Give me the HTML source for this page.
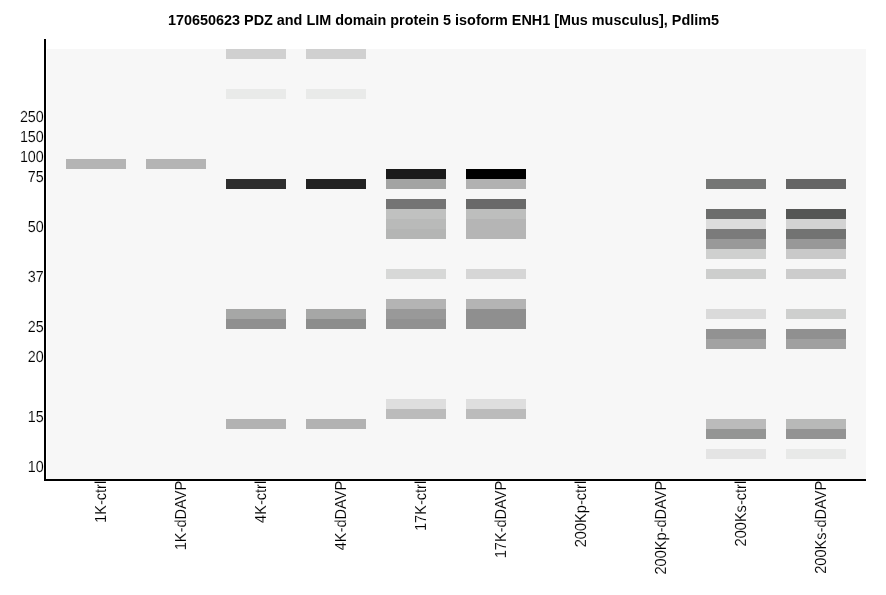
<!DOCTYPE html>
<html><head><meta charset="utf-8"><title>170650623 PDZ and LIM domain protein 5</title>
<style>
html,body{margin:0;padding:0;background:#fff;}
body{width:886px;height:595px;overflow:hidden;}
svg{display:block;}
text{font-family:"Liberation Sans",Arial,sans-serif;fill:#000;}
.t{font-weight:bold;font-size:14.4px;}
.l{font-size:16px;stroke:#fff;stroke-width:0.12px;}
</style></head><body>
<svg width="886" height="595" viewBox="0 0 886 595">
<rect x="0" y="0" width="886" height="595" fill="#ffffff"/>
<rect x="47" y="49" width="819" height="430" fill="#f7f7f7" shape-rendering="crispEdges"/>
<g shape-rendering="crispEdges">
<rect x="66" y="159" width="60" height="10" fill="#b4b4b4"/>
<rect x="146" y="159" width="60" height="10" fill="#b4b4b4"/>
<rect x="226" y="49" width="60" height="10" fill="#d0d0d0"/>
<rect x="226" y="89" width="60" height="10" fill="#e9eae9"/>
<rect x="226" y="179" width="60" height="10" fill="#2e2e2e"/>
<rect x="226" y="309" width="60" height="10" fill="#a6a7a6"/>
<rect x="226" y="319" width="60" height="10" fill="#8f8f8f"/>
<rect x="226" y="419" width="60" height="10" fill="#b2b2b2"/>
<rect x="306" y="49" width="60" height="10" fill="#d0d0d0"/>
<rect x="306" y="89" width="60" height="10" fill="#e9eae9"/>
<rect x="306" y="179" width="60" height="10" fill="#222222"/>
<rect x="306" y="309" width="60" height="10" fill="#a6a7a6"/>
<rect x="306" y="319" width="60" height="10" fill="#8c8d8c"/>
<rect x="306" y="419" width="60" height="10" fill="#b2b2b2"/>
<rect x="386" y="169" width="60" height="10" fill="#1a1a1a"/>
<rect x="386" y="179" width="60" height="10" fill="#a3a4a3"/>
<rect x="386" y="199" width="60" height="10" fill="#747474"/>
<rect x="386" y="209" width="60" height="10" fill="#c0c1c0"/>
<rect x="386" y="219" width="60" height="10" fill="#b9bab9"/>
<rect x="386" y="229" width="60" height="10" fill="#b4b5b4"/>
<rect x="386" y="269" width="60" height="10" fill="#d7d8d7"/>
<rect x="386" y="299" width="60" height="10" fill="#b4b4b4"/>
<rect x="386" y="309" width="60" height="10" fill="#999999"/>
<rect x="386" y="319" width="60" height="10" fill="#919191"/>
<rect x="386" y="399" width="60" height="10" fill="#dedede"/>
<rect x="386" y="409" width="60" height="10" fill="#bbbbbb"/>
<rect x="466" y="169" width="60" height="10" fill="#000000"/>
<rect x="466" y="179" width="60" height="10" fill="#b1b1b1"/>
<rect x="466" y="199" width="60" height="10" fill="#696969"/>
<rect x="466" y="209" width="60" height="10" fill="#bdbebd"/>
<rect x="466" y="219" width="60" height="10" fill="#b5b5b5"/>
<rect x="466" y="229" width="60" height="10" fill="#b5b5b5"/>
<rect x="466" y="269" width="60" height="10" fill="#d6d6d6"/>
<rect x="466" y="299" width="60" height="10" fill="#b4b4b4"/>
<rect x="466" y="309" width="60" height="10" fill="#8f8f8f"/>
<rect x="466" y="319" width="60" height="10" fill="#8f8f8f"/>
<rect x="466" y="399" width="60" height="10" fill="#dedede"/>
<rect x="466" y="409" width="60" height="10" fill="#bbbbbb"/>
<rect x="706" y="179" width="60" height="10" fill="#757675"/>
<rect x="706" y="209" width="60" height="10" fill="#6c6d6c"/>
<rect x="706" y="219" width="60" height="10" fill="#dcdcdc"/>
<rect x="706" y="229" width="60" height="10" fill="#7b7b7b"/>
<rect x="706" y="239" width="60" height="10" fill="#999999"/>
<rect x="706" y="249" width="60" height="10" fill="#cfd0cf"/>
<rect x="706" y="269" width="60" height="10" fill="#cdcecd"/>
<rect x="706" y="309" width="60" height="10" fill="#dadada"/>
<rect x="706" y="329" width="60" height="10" fill="#929292"/>
<rect x="706" y="339" width="60" height="10" fill="#a2a2a2"/>
<rect x="706" y="419" width="60" height="10" fill="#bbbbbb"/>
<rect x="706" y="429" width="60" height="10" fill="#949594"/>
<rect x="706" y="449" width="60" height="10" fill="#e4e4e4"/>
<rect x="786" y="179" width="60" height="10" fill="#656565"/>
<rect x="786" y="209" width="60" height="10" fill="#555655"/>
<rect x="786" y="219" width="60" height="10" fill="#d3d3d3"/>
<rect x="786" y="229" width="60" height="10" fill="#727372"/>
<rect x="786" y="239" width="60" height="10" fill="#989898"/>
<rect x="786" y="249" width="60" height="10" fill="#c9c9c9"/>
<rect x="786" y="269" width="60" height="10" fill="#cccccc"/>
<rect x="786" y="309" width="60" height="10" fill="#cecfce"/>
<rect x="786" y="329" width="60" height="10" fill="#909090"/>
<rect x="786" y="339" width="60" height="10" fill="#a0a0a0"/>
<rect x="786" y="419" width="60" height="10" fill="#b8b9b8"/>
<rect x="786" y="429" width="60" height="10" fill="#939393"/>
<rect x="786" y="449" width="60" height="10" fill="#e8e9e8"/>
</g>
<g shape-rendering="crispEdges"><rect x="44" y="39" width="2" height="442" fill="#000"/><rect x="44" y="479" width="822" height="2" fill="#000"/></g>
<text class="t" x="443.5" y="25.1" text-anchor="middle">170650623 PDZ and LIM domain protein 5 isoform ENH1 [Mus musculus], Pdlim5</text>
<text class="l" transform="translate(43.8,122) rotate(0.03) scale(0.895,1)" text-anchor="end">250</text>
<text class="l" transform="translate(43.8,142) rotate(0.03) scale(0.895,1)" text-anchor="end">150</text>
<text class="l" transform="translate(43.8,162) rotate(0.03) scale(0.895,1)" text-anchor="end">100</text>
<text class="l" transform="translate(43.8,182) rotate(0.03) scale(0.895,1)" text-anchor="end">75</text>
<text class="l" transform="translate(43.8,232) rotate(0.03) scale(0.895,1)" text-anchor="end">50</text>
<text class="l" transform="translate(43.8,282) rotate(0.03) scale(0.895,1)" text-anchor="end">37</text>
<text class="l" transform="translate(43.8,332) rotate(0.03) scale(0.895,1)" text-anchor="end">25</text>
<text class="l" transform="translate(43.8,362) rotate(0.03) scale(0.895,1)" text-anchor="end">20</text>
<text class="l" transform="translate(43.8,422) rotate(0.03) scale(0.895,1)" text-anchor="end">15</text>
<text class="l" transform="translate(43.8,472) rotate(0.03) scale(0.895,1)" text-anchor="end">10</text>
<text class="l" transform="translate(106,480.8) rotate(-90.03) scale(0.9125,1)" text-anchor="end">1K-ctrl</text>
<text class="l" transform="translate(186,480.8) rotate(-90.03) scale(0.9125,1)" text-anchor="end">1K-dDAVP</text>
<text class="l" transform="translate(266,480.8) rotate(-90.03) scale(0.9125,1)" text-anchor="end">4K-ctrl</text>
<text class="l" transform="translate(346,480.8) rotate(-90.03) scale(0.9125,1)" text-anchor="end">4K-dDAVP</text>
<text class="l" transform="translate(426,480.8) rotate(-90.03) scale(0.9125,1)" text-anchor="end">17K-ctrl</text>
<text class="l" transform="translate(506,480.8) rotate(-90.03) scale(0.9125,1)" text-anchor="end">17K-dDAVP</text>
<text class="l" transform="translate(586,480.8) rotate(-90.03) scale(0.9125,1)" text-anchor="end">200Kp-ctrl</text>
<text class="l" transform="translate(666,480.8) rotate(-90.03) scale(0.9125,1)" text-anchor="end">200Kp-dDAVP</text>
<text class="l" transform="translate(746,480.8) rotate(-90.03) scale(0.9125,1)" text-anchor="end">200Ks-ctrl</text>
<text class="l" transform="translate(826,480.8) rotate(-90.03) scale(0.9125,1)" text-anchor="end">200Ks-dDAVP</text>
</svg></body></html>
